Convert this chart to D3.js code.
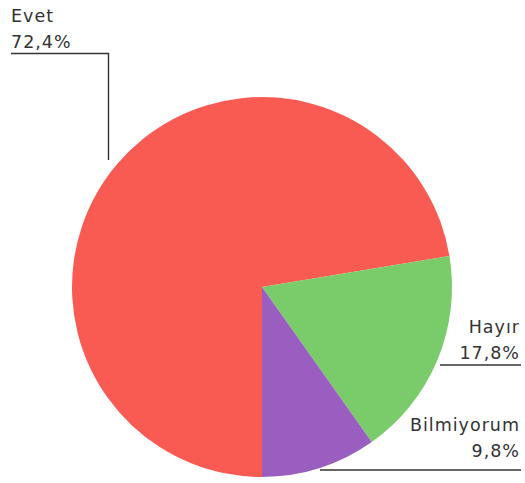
<!DOCTYPE html>
<html><head><meta charset="utf-8">
<script src="https://cdn.jsdelivr.net/npm/d3@7"></script>
<style>body{margin:0;background:#fff;}text{font-family:"DejaVu Sans",sans-serif;}</style>
</head><body>
<script>
const categories = ["Evet", "Hayır", "Bilmiyorum"];
const values = [72.4, 17.8, 9.8];
const valueLabels = ["72,4%", "17,8%", "9,8%"];
const colors = ["#f95b52", "#7acb6a", "#9a5dc0"];

const W = 525, H = 483;
const cx = 262, cy = 287, R = 190;
const svg = d3.select("body").append("svg").attr("width", W).attr("height", H);
const pie = d3.pie().sort(null).startAngle(Math.PI).endAngle(3 * Math.PI);
const arcs = pie(values);
const arc = d3.arc().innerRadius(0).outerRadius(R);
const g = svg.append("g").attr("transform", `translate(${cx},${cy})`);
g.selectAll("path").data(arcs).enter().append("path")
  .attr("d", arc).attr("fill", (d, i) => colors[i]);

const ink = "#333";
function label(lines, x, y, anchor) {
  const t = svg.append("text").attr("x", x).attr("y", y).attr("text-anchor", anchor)
    .attr("fill", ink).style("font-size", "17.5px").style("letter-spacing", "1px");
  lines.forEach((l, k) => t.append("tspan").attr("x", x).attr("dy", k ? 26 : 0).text(l));
}
// Evet
label([categories[0], valueLabels[0]], 11, 22, "start");
svg.append("path").attr("d", "M11,53.5H108.5V160").attr("fill", "none").attr("stroke", ink).attr("stroke-width", 1.4);
// Hayır
label([categories[1], valueLabels[1]], 520, 333, "end");
svg.append("line").attr("x1", 440).attr("x2", 521).attr("y1", 365).attr("y2", 365).attr("stroke", ink).attr("stroke-width", 1.4);
// Bilmiyorum
label([categories[2], valueLabels[2]], 520, 431, "end");
svg.append("line").attr("x1", 320).attr("x2", 521).attr("y1", 470).attr("y2", 470).attr("stroke", ink).attr("stroke-width", 1.4);
</script>
</body></html>
